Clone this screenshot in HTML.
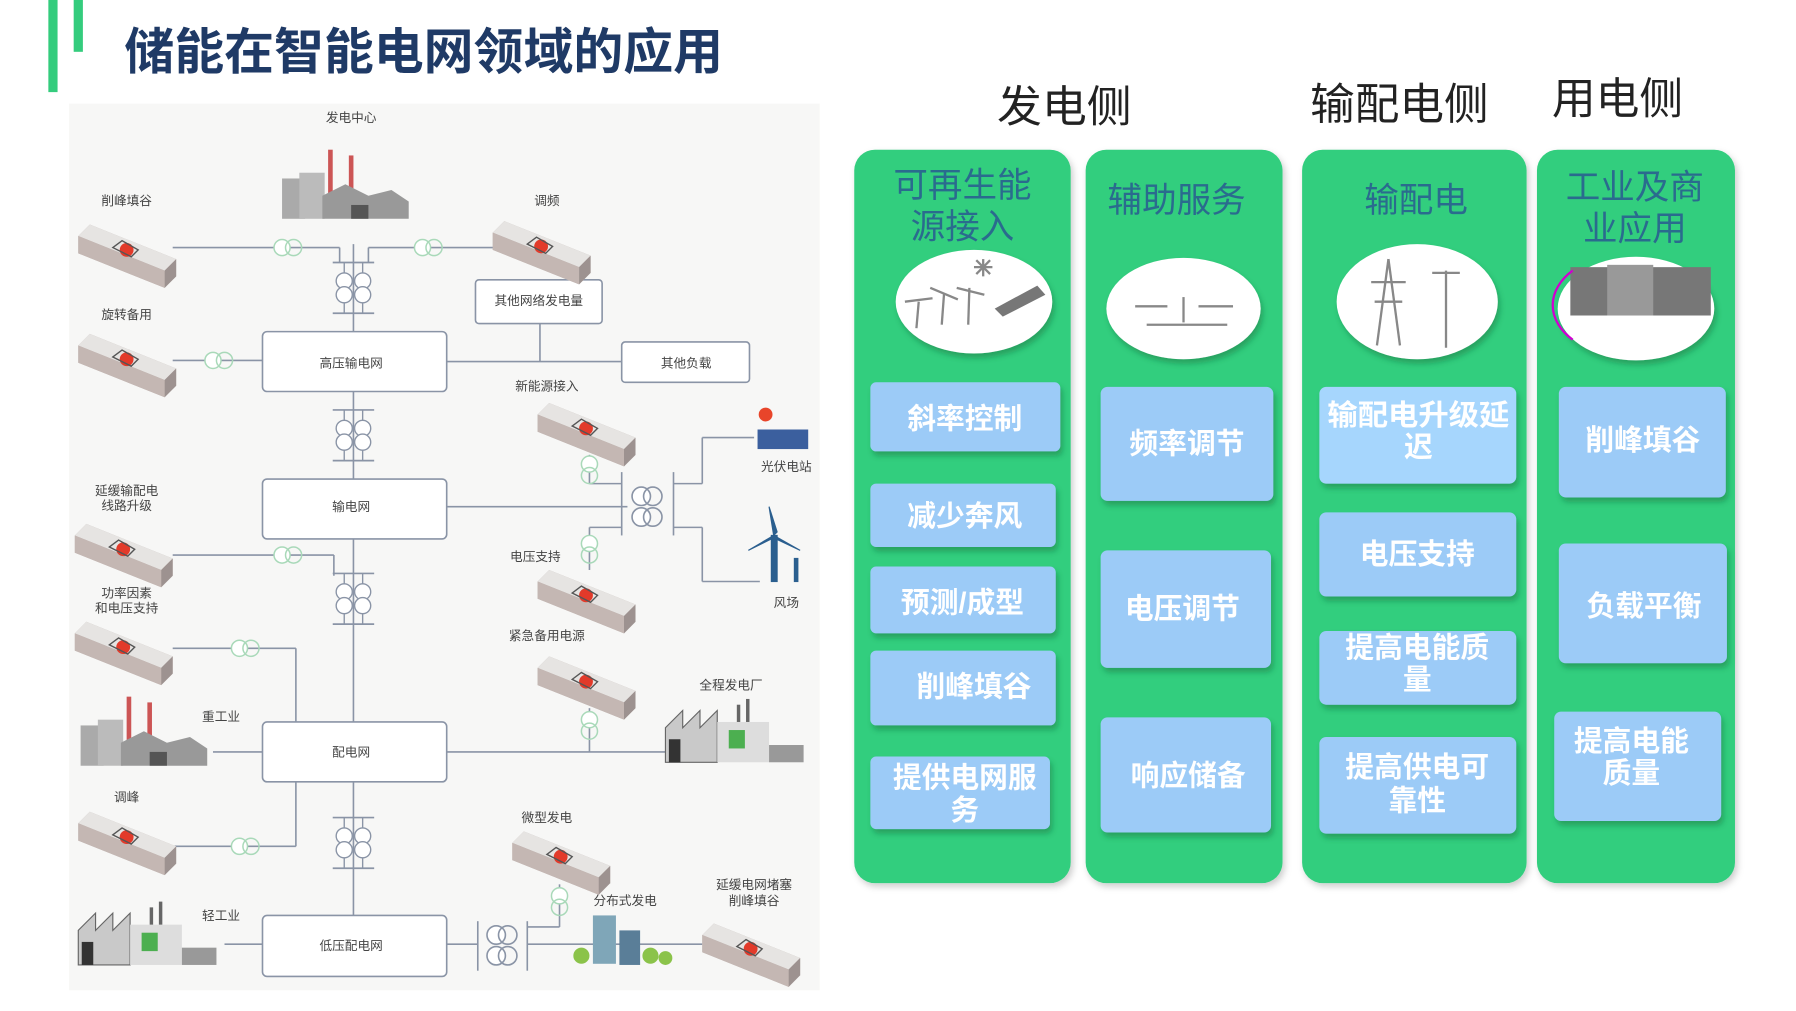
<!DOCTYPE html>
<html><head><meta charset="utf-8"><style>
html,body{margin:0;padding:0;background:#fff;}
svg{display:block;}
text{font-family:"Liberation Sans","Noto Sans CJK SC",sans-serif;}
</style></head><body>
<svg width="1796" height="1011" viewBox="0 0 1560 878" preserveAspectRatio="none" xmlns="http://www.w3.org/2000/svg">
<defs>
<filter id="sh" x="-10%" y="-10%" width="130%" height="140%"><feDropShadow dx="2" dy="4" stdDeviation="2.5" flood-color="#1a6a3a" flood-opacity="0.45"/></filter>
<filter id="csh" x="-10%" y="-5%" width="120%" height="110%"><feDropShadow dx="2" dy="3" stdDeviation="3" flood-color="#000" flood-opacity="0.2"/></filter>
<g id="bat">
<polygon points="0,10 10,0 85,30 85,45 75,55 0,25" fill="#b9aeaa"/>
<polygon points="0,10 10,0 85,30 75,40" fill="#e6e4e2"/>
<polygon points="75,40 85,30 85,45 75,55" fill="#9d9290"/>
<polygon points="0,10 75,40 75,55 0,25" fill="#c4b7b3"/>
<circle cx="42" cy="22" r="6" fill="#e23a2a"/>
<path d="M30 20 l8 -6 l14 8 l-6 6z" fill="none" stroke="#555" stroke-width="1.2"/>
</g>
<g id="tr2">
<line x1="-18" y1="-22" x2="18" y2="-22" stroke="#8a94a6" stroke-width="1.5"/>
<line x1="-18" y1="22" x2="18" y2="22" stroke="#8a94a6" stroke-width="1.5"/>
<line x1="-8" y1="-22" x2="-8" y2="22" stroke="#8a94a6" stroke-width="1.2"/>
<line x1="8" y1="-22" x2="8" y2="22" stroke="#8a94a6" stroke-width="1.2"/>
<g fill="#fff" stroke="#8a94a6" stroke-width="1.2">
<circle cx="-8" cy="-6" r="7"/><circle cx="-8" cy="6" r="7"/>
<circle cx="8" cy="-6" r="7"/><circle cx="8" cy="6" r="7"/></g>
</g>
<g id="gc"><circle cx="-5" cy="0" r="7" fill="#fff" stroke="#a9d9b9" stroke-width="1.3"/><circle cx="5" cy="0" r="7" fill="none" stroke="#a9d9b9" stroke-width="1.3"/></g>
<g id="gv"><circle cx="0" cy="-5" r="7" fill="#fff" stroke="#a9d9b9" stroke-width="1.3"/><circle cx="0" cy="5" r="7" fill="none" stroke="#a9d9b9" stroke-width="1.3"/></g>
<g id="fac">
<rect x="0" y="25" width="20" height="35" fill="#aaa"/>
<rect x="15" y="20" width="22" height="40" fill="#bbb"/>
<rect x="40" y="0" width="4" height="40" fill="#c55"/>
<rect x="58" y="5" width="4" height="35" fill="#c55"/>
<polygon points="35,60 35,40 55,30 75,40 95,35 110,45 110,60" fill="#999"/>
<rect x="60" y="48" width="15" height="12" fill="#555"/>
</g>
<g id="lfac">
<polygon points="0,50 0,20 15,5 15,20 30,5 30,20 45,5 45,50" fill="#c9c9c9" stroke="#666" stroke-width="1"/>
<rect x="3" y="30" width="10" height="20" fill="#333"/>
<rect x="45" y="15" width="45" height="35" fill="#ddd"/>
<rect x="55" y="22" width="14" height="16" fill="#4caf50"/>
<rect x="62" y="0" width="3" height="15" fill="#666"/><rect x="70" y="-5" width="3" height="20" fill="#666"/>
<rect x="90" y="35" width="30" height="15" fill="#999"/>
</g>
</defs>

<rect width="1560" height="878" fill="#fff"/>
<rect x="42" y="0" width="8" height="80" fill="#34cc7d"/>
<rect x="64" y="0" width="8" height="45" fill="#34cc7d"/>
<text x="108" y="60" font-size="43" font-weight="bold" fill="#1f3a66" textLength="520" lengthAdjust="spacingAndGlyphs">储能在智能电网领域的应用</text>

<rect x="60" y="90" width="652" height="770" fill="#f7f7f6"/>
<g stroke="#8a94a6" stroke-width="1.4" fill="none">
<line x1="307" y1="212" x2="307" y2="795"/>
<line x1="150" y1="215" x2="295" y2="215"/><line x1="295" y1="215" x2="295" y2="228"/>
<line x1="320" y1="215" x2="430" y2="215"/><line x1="320" y1="215" x2="320" y2="228"/>
<line x1="150" y1="313" x2="228" y2="313"/>
<line x1="388" y1="314" x2="540" y2="314"/><line x1="469" y1="281" x2="469" y2="314"/>
<line x1="388" y1="440" x2="545" y2="440"/>
<line x1="150" y1="482" x2="290" y2="482"/><line x1="290" y1="482" x2="290" y2="500"/>
<line x1="150" y1="563" x2="257" y2="563"/><line x1="257" y1="563" x2="257" y2="627"/>
<line x1="185" y1="653" x2="228" y2="653"/><line x1="388" y1="653" x2="580" y2="653"/>
<line x1="150" y1="735" x2="257" y2="735"/><line x1="257" y1="679" x2="257" y2="735"/>
<line x1="195" y1="820" x2="228" y2="820"/><line x1="388" y1="820" x2="415" y2="820"/>
<line x1="458" y1="820" x2="610" y2="820"/>
<line x1="585" y1="420" x2="610" y2="420"/><line x1="610" y1="380" x2="610" y2="420"/><line x1="610" y1="380" x2="655" y2="380"/>
<line x1="585" y1="458" x2="610" y2="458"/><line x1="610" y1="458" x2="610" y2="505"/><line x1="610" y1="505" x2="660" y2="505"/>
<line x1="512" y1="395" x2="512" y2="420"/><line x1="512" y1="420" x2="540" y2="420"/>
<line x1="512" y1="458" x2="540" y2="458"/><line x1="512" y1="458" x2="512" y2="495"/>
<line x1="512" y1="615" x2="512" y2="653"/>
<line x1="486" y1="768" x2="486" y2="805"/><line x1="458" y1="805" x2="486" y2="805"/>
</g>
<g fill="#fff" stroke="#8a94a6" stroke-width="1.4">
<rect x="228" y="288" width="160" height="52" rx="4"/>
<rect x="228" y="416" width="160" height="52" rx="4"/>
<rect x="228" y="627" width="160" height="52" rx="4"/>
<rect x="228" y="795" width="160" height="53" rx="4"/>
<rect x="413" y="243" width="110" height="38" rx="3"/>
<rect x="540" y="297" width="111" height="35" rx="3"/>
</g>
<use href="#tr2" x="307" y="250"/><use href="#tr2" x="307" y="378"/><use href="#tr2" x="307" y="520"/><use href="#tr2" x="307" y="732"/>
<g stroke="#8a94a6" stroke-width="1.4" fill="#fff">
<line x1="540" y1="410" x2="540" y2="465"/><line x1="585" y1="410" x2="585" y2="465"/>
<circle cx="557" cy="431" r="8"/><circle cx="567" cy="431" r="8" fill="none"/>
<circle cx="557" cy="449" r="8"/><circle cx="567" cy="449" r="8" fill="none"/>
<line x1="415" y1="800" x2="415" y2="843"/><line x1="458" y1="800" x2="458" y2="843"/>
<circle cx="431" cy="812" r="8"/><circle cx="441" cy="812" r="8" fill="none"/>
<circle cx="431" cy="830" r="8"/><circle cx="441" cy="830" r="8" fill="none"/>
</g>
<use href="#gc" x="250" y="215"/><use href="#gc" x="372" y="215"/><use href="#gc" x="190" y="313"/>
<use href="#gc" x="250" y="482"/><use href="#gc" x="213" y="563"/><use href="#gc" x="213" y="735"/>
<use href="#gv" x="512" y="408"/><use href="#gv" x="512" y="477"/><use href="#gv" x="512" y="630"/><use href="#gv" x="486" y="783"/>

<use href="#bat" x="68" y="195"/><use href="#bat" x="428" y="192"/><use href="#bat" x="68" y="290"/>
<use href="#bat" x="467" y="350"/><use href="#bat" x="65" y="455"/><use href="#bat" x="65" y="540"/>
<use href="#bat" x="467" y="495"/><use href="#bat" x="467" y="570"/><use href="#bat" x="68" y="705"/>
<use href="#bat" x="445" y="722"/><use href="#bat" x="610" y="802"/>

<use href="#fac" x="245" y="130"/><use href="#fac" x="70" y="605"/>
<use href="#lfac" x="578" y="612"/><use href="#lfac" x="68" y="788"/>
<rect x="515" y="795" width="20" height="42" fill="#7fa6b8"/><rect x="538" y="808" width="18" height="30" fill="#5a7e98"/>
<circle cx="505" cy="830" r="7" fill="#8bc34a"/><circle cx="565" cy="830" r="7" fill="#8bc34a"/><circle cx="578" cy="832" r="6" fill="#8bc34a"/>
<circle cx="665" cy="360" r="6" fill="#e8452a"/>
<rect x="658" y="373" width="44" height="17" fill="#3b5f9e"/>
<g stroke="#2b5f8f" fill="#2b5f8f"><rect x="670" y="465" width="5" height="40"/>
<polygon points="672,465 668,440 675,462" /><polygon points="672,465 650,478 670,468"/><polygon points="672,465 695,478 674,468"/>
<rect x="690" y="485" width="3" height="20"/></g>

<g font-size="11" fill="#444" text-anchor="middle">
<text x="305" y="106">发电中心</text>
<text x="110" y="178">削峰填谷</text>
<text x="475" y="178">调频</text>
<text x="110" y="277">旋转备用</text>
<text x="468" y="265">其他网络发电量</text>
<text x="596" y="319">其他负载</text>
<text x="305" y="319">高压输电网</text>
<text x="475" y="339">新能源接入</text>
<text x="683" y="409">光伏电站</text>
<text x="110" y="430">延缓输配电</text><text x="110" y="443">线路升级</text>
<text x="305" y="444">输电网</text>
<text x="465" y="487">电压支持</text>
<text x="683" y="527">风场</text>
<text x="110" y="519">功率因素</text><text x="110" y="532">和电压支持</text>
<text x="475" y="556">紧急备用电源</text>
<text x="635" y="599">全程发电厂</text>
<text x="192" y="626">重工业</text>
<text x="305" y="657">配电网</text>
<text x="110" y="696">调峰</text>
<text x="475" y="714">微型发电</text>
<text x="655" y="772">延缓电网堵塞</text><text x="655" y="786">削峰填谷</text>
<text x="543" y="786">分布式发电</text>
<text x="192" y="799">轻工业</text>
<text x="305" y="825">低压配电网</text>
</g>

<g transform="translate(-6,0)">
<g font-size="38" fill="#222">
<text x="872" y="106" textLength="117" lengthAdjust="spacingAndGlyphs">发电侧</text>
<text x="1144" y="104" textLength="155" lengthAdjust="spacingAndGlyphs">输配电侧</text>
<text x="1354" y="99" textLength="114" lengthAdjust="spacingAndGlyphs">用电侧</text>
</g>
<g fill="#33ce7e" filter="url(#csh)">
<rect x="748" y="130" width="188" height="637" rx="18"/>
<rect x="949" y="130" width="171" height="637" rx="18"/>
<rect x="1137" y="130" width="195" height="637" rx="18"/>
<rect x="1341" y="130" width="172" height="637" rx="18"/>
</g>
<g font-size="30" fill="#2a6b8e" text-anchor="middle">
<text x="842" y="171">可再生能</text><text x="842" y="207">源接入</text>
<text x="1028" y="184">辅助服务</text>
<text x="1236" y="184">输配电</text>
<text x="1426" y="173">工业及商</text><text x="1426" y="209">业应用</text>
</g>
<g fill="#fff" filter="url(#sh)">
<ellipse cx="852" cy="262" rx="68" ry="45"/>
<ellipse cx="1034" cy="268" rx="67" ry="44"/>
<ellipse cx="1237" cy="262" rx="70" ry="50"/>
<ellipse cx="1427" cy="268" rx="68" ry="45"/>
</g>
<g transform="translate(2,0)">
<g stroke="#888" stroke-width="2" fill="none">
<line x1="800" y1="285" x2="802" y2="262"/><line x1="822" y1="282" x2="824" y2="255"/><line x1="845" y1="282" x2="846" y2="250"/>
<path d="M790 262 l24 -3 M812 250 l24 10 M835 250 l24 6"/>
<line x1="858" y1="240" x2="858" y2="225"/><line x1="850" y1="232" x2="866" y2="232"/><line x1="852" y1="226" x2="864" y2="238"/><line x1="864" y1="226" x2="852" y2="238"/>
<line x1="990" y1="266" x2="1018" y2="266"/><line x1="1045" y1="266" x2="1075" y2="266"/><line x1="1000" y1="282" x2="1070" y2="282"/>
<line x1="1032" y1="258" x2="1032" y2="280"/>
<line x1="1210" y1="225" x2="1200" y2="300"/><line x1="1210" y1="225" x2="1220" y2="300"/><line x1="1195" y1="245" x2="1225" y2="245"/><line x1="1198" y1="262" x2="1222" y2="262"/>
<line x1="1260" y1="235" x2="1260" y2="302"/><line x1="1248" y1="237" x2="1272" y2="237"/>
</g>
<polygon points="868,268 905,248 912,256 875,275" fill="#777"/>
<rect x="1368" y="232" width="122" height="42" fill="#777"/>
<rect x="1400" y="230" width="40" height="44" fill="#999"/>
<path d="M1370 235 A68 45 0 0 0 1370 295" stroke="#d000d0" stroke-width="2" fill="none"/>
</g>
<g fill="#9ccbf7" filter="url(#sh)">
<rect x="762" y="332" width="165" height="60" rx="5"/>
<rect x="762" y="420" width="161" height="55" rx="5"/>
<rect x="762" y="492" width="161" height="58" rx="5"/>
<rect x="762" y="565" width="161" height="65" rx="5"/>
<rect x="762" y="657" width="156" height="63" rx="5"/>
<rect x="962" y="336" width="150" height="99" rx="6"/>
<rect x="962" y="478" width="148" height="102" rx="6"/>
<rect x="962" y="623" width="148" height="100" rx="6"/>
<rect x="1152" y="336" width="171" height="84" rx="6" fill="#a6d6fd"/>
<rect x="1152" y="445" width="171" height="73" rx="6"/>
<rect x="1152" y="548" width="171" height="64" rx="6"/>
<rect x="1152" y="640" width="171" height="84" rx="6"/>
<rect x="1360" y="336" width="145" height="96" rx="6"/>
<rect x="1360" y="472" width="146" height="104" rx="6"/>
<rect x="1356" y="618" width="145" height="95" rx="6"/>
</g>
<g font-size="25" font-weight="bold" fill="#fff" text-anchor="middle">
<text x="844" y="372">斜率控制</text>
<text x="844" y="457">减少奔风</text>
<text x="842" y="532">预测/成型</text>
<text x="852" y="605">削峰填谷</text>
<text x="844" y="684">提供电网服</text><text x="844" y="712">务</text>
<text x="1037" y="394">频率调节</text>
<text x="1033" y="537">电压调节</text>
<text x="1038" y="682">响应储备</text>
<text x="1238" y="369" textLength="158" lengthAdjust="spacingAndGlyphs">输配电升级延</text><text x="1238" y="397">迟</text>
<text x="1237" y="490">电压支持</text>
<text x="1237" y="571">提高电能质</text><text x="1237" y="599">量</text>
<text x="1237" y="675">提高供电可</text><text x="1237" y="704">靠性</text>
<text x="1433" y="391">削峰填谷</text>
<text x="1434" y="535">负载平衡</text>
<text x="1423" y="652">提高电能</text><text x="1423" y="680">质量</text>
</g>
</g>
</svg>
</body></html>
